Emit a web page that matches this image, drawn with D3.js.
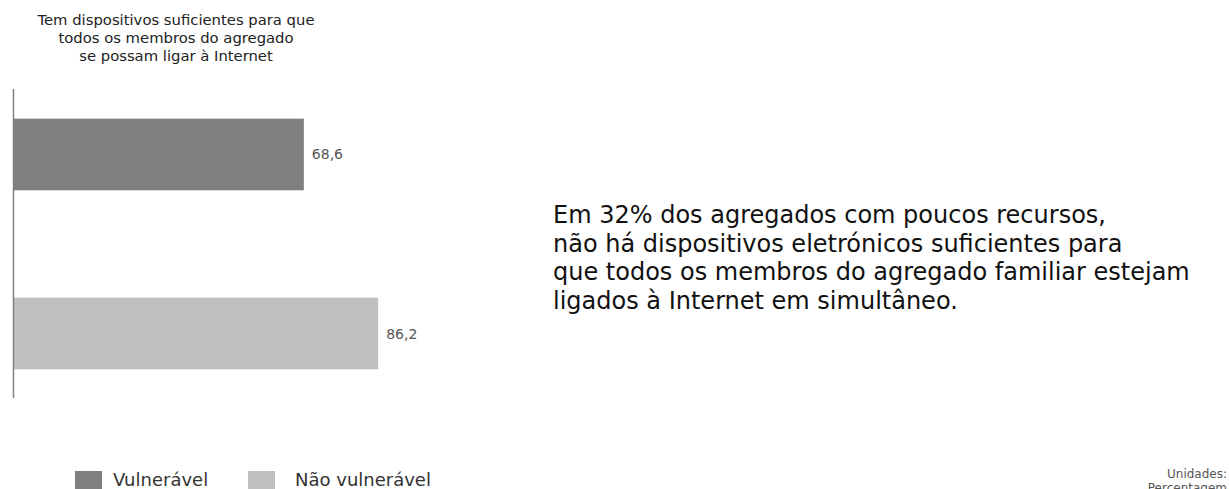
<!DOCTYPE html>
<html>
<head>
<meta charset="utf-8">
<script src="https://cdn.jsdelivr.net/npm/d3@7"></script>
<style>
  html, body { margin: 0; padding: 0; background: #fff; }
  svg { display: block; }
  text { font-family: "DejaVu Sans", Verdana, sans-serif; }
</style>
</head>
<body>
<svg id="chart" width="1229" height="489"></svg>
<script>
// Chart data
const categories = ["Vulnerável", "Não vulnerável"];
const values = [68.6, 86.2];
const valueLabels = ["68,6", "86,2"];
const colors = ["#7f7f7f", "#bfbfbf"];
const titleLines = [
  "Tem dispositivos suficientes para que",
  "todos os membros do agregado",
  "se possam ligar à Internet"
];
const noteLines = [
  "Em 32% dos agregados com poucos recursos,",
  "não há dispositivos eletrónicos suficientes para",
  "que todos os membros do agregado familiar estejam",
  "ligados à Internet em simultâneo."
];
const unitLines = ["Unidades:", "Percentagem"];

const svg = d3.select("#chart");

// Scales
const x = d3.scaleLinear().domain([0, 100]).range([14, 436.5]);
const y = d3.scaleBand().domain(categories).range([90, 398]).paddingInner(0.6).paddingOuter(0.16);

// Title
svg.append("g").selectAll("text").data(titleLines).join("text")
  .attr("x", 176).attr("y", (d, i) => 25 + i * 18)
  .attr("text-anchor", "middle")
  .attr("font-size", 14.8).attr("fill", "#222")
  .text(d => d);

// Bars
svg.append("g").selectAll("rect").data(values).join("rect")
  .attr("x", x(0))
  .attr("y", (d, i) => y(categories[i]))
  .attr("width", d => x(d) - x(0))
  .attr("height", y.bandwidth())
  .attr("fill", (d, i) => colors[i]);

// Value labels
svg.append("g").selectAll("text").data(values).join("text")
  .attr("x", d => x(d) + 8)
  .attr("y", (d, i) => y(categories[i]) + y.bandwidth() / 2 + 5)
  .attr("font-size", 14).attr("fill", "#555")
  .text((d, i) => valueLabels[i]);

// Vertical axis line
svg.append("line")
  .attr("x1", 13.5).attr("x2", 13.5)
  .attr("y1", 89).attr("y2", 398)
  .attr("stroke", "#808080").attr("stroke-width", 1.5);

// Annotation
svg.append("g").selectAll("text").data(noteLines).join("text")
  .attr("x", 553).attr("y", (d, i) => 223 + i * 28.7)
  .attr("font-size", 24).attr("fill", "#111")
  .text(d => d);

// Legend: swatch position and label gap for each entry
const legendX = [75, 248];
const legendGap = [38, 47];
const legend = svg.append("g").selectAll("g").data(categories).join("g")
  .attr("transform", (d, i) => `translate(${legendX[i]},471)`);
legend.append("rect").attr("width", 27).attr("height", 18)
  .attr("fill", (d, i) => colors[i]);
legend.append("text").attr("x", (d, i) => legendGap[i]).attr("y", 15)
  .attr("font-size", 18).attr("fill", "#333")
  .text(d => d);

// Units note
svg.append("g").selectAll("text").data(unitLines).join("text")
  .attr("x", 1227).attr("y", (d, i) => 478 + i * 14)
  .attr("text-anchor", "end")
  .attr("font-size", 12).attr("fill", "#555")
  .text(d => d);
</script>
</body>
</html>
